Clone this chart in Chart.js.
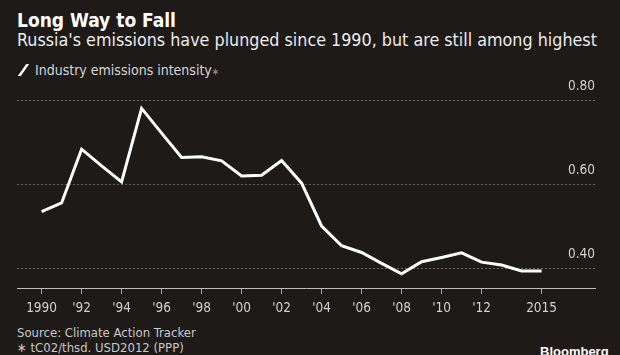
<!DOCTYPE html>
<html>
<head>
<meta charset="utf-8">
<script src="https://cdn.jsdelivr.net/npm/chart.js@4.4.1/dist/chart.umd.min.js"></script>
<style>
  html, body { margin: 0; padding: 0; }
  body { width: 620px; height: 355px; background: #1e1a18; position: relative; overflow: hidden;
         font-family: 'DejaVu Sans Condensed', 'DejaVu Sans', sans-serif; font-stretch: condensed; }
  .t { position: absolute; white-space: nowrap; line-height: 1; }
  #title { left: 17px; top: 11px; font-size: 19px; font-weight: bold; color: #ffffff; }
  #subtitle { left: 17px; top: 32px; font-size: 17.75px; color: #ececec; }
  #legend { left: 18px; top: 63px; font-size: 14px; color: #d6d6d6; }
  #legend .sw { display: inline-block; width: 3px; height: 12px; background: #fff; transform: skewX(-35deg) ; margin: 0 10px 0 4px; vertical-align: -1px; }
  #legend .ast { color: #9a9a9a; font-size: 10px; }
  #source { left: 17px; top: 326px; font-size: 13px; color: #c8c8c8; }
  #note { left: 17px; top: 341px; font-size: 13px; color: #c8c8c8; }
  #brand { left: 540px; top: 345px; font-size: 13px; font-weight: bold; color: #ffffff; font-family: 'Liberation Sans', sans-serif; font-stretch: normal; }
  canvas { position: absolute; left: 0; top: 0; }
</style>
</head>
<body>
<div class="t" id="title">Long Way to Fall</div>
<div class="t" id="subtitle">Russia's emissions have plunged since 1990, but are still among highest</div>
<div class="t" id="legend"><span class="sw"></span>Industry emissions intensity<span class="ast">∗</span></div>
<div class="t" id="source">Source: Climate Action Tracker</div>
<div class="t" id="note">∗ tC02/thsd. USD2012 (PPP)</div>
<div class="t" id="brand">Bloomberg</div>
<canvas id="c" width="620" height="355"></canvas>
<script>
const years = [1990,1991,1992,1993,1994,1995,1996,1997,1998,1999,2000,2001,2002,2003,2004,2005,2006,2007,2008,2009,2010,2011,2012,2013,2014,2015];
const intensity = [0.534,0.555,0.683,0.643,0.605,0.780,0.721,0.663,0.665,0.655,0.619,0.621,0.656,0.602,0.500,0.453,0.437,0.411,0.386,0.415,0.425,0.436,0.414,0.407,0.393,0.393];
const xTickValues = [1990,1992,1994,1996,1998,2000,2002,2004,2006,2008,2010,2012,2015];
const yTickValues = [0.40,0.60,0.80];

const FONT = "'DejaVu Sans Condensed', 'DejaVu Sans', sans-serif";

new Chart(document.getElementById('c'), {
  type: 'line',
  data: {
    datasets: [{
      label: 'Industry emissions intensity',
      data: years.map((y, i) => ({ x: y, y: intensity[i] })),
      borderColor: '#ffffff',
      borderWidth: 3,
      pointRadius: 0,
      tension: 0,
      fill: false
    }]
  },
  options: {
    responsive: false,
    animation: false,
    layout: { padding: { left: 17, right: 25, top: 91.6, bottom: 0 } },
    plugins: { legend: { display: false }, tooltip: { enabled: false } },
    scales: {
      x: {
        type: 'linear',
        min: 1988.77,
        max: 2017.67,
        afterBuildTicks: s => { s.ticks = xTickValues.map(v => ({ value: v })); },
        afterFit: s => { s.height = 67; },
        grid: { drawOnChartArea: false, drawTicks: true, tickLength: 6, color: '#a8a8a8', lineWidth: 1 },
        border: { display: true, color: '#bdbdbd', width: 1 },
        ticks: {
          color: '#d0d0d0',
          font: { family: FONT, size: 13.5 },
          padding: 6,
          maxRotation: 0,
          autoSkip: false,
          callback: v => (v === 1990 || v === 2015) ? String(v) : "'" + String(v).slice(2)
        }
      },
      y: {
        position: 'right',
        min: 0.3524,
        max: 0.82,
        afterBuildTicks: s => { s.ticks = yTickValues.map(v => ({ value: v })); },
        afterFit: s => { s.width = 0; },
        grid: { drawTicks: false, color: '#6e6a66', lineWidth: 1 },
        border: { display: false, dash: [2, 2] },
        ticks: {
          mirror: true,
          padding: 0,
          labelOffset: -14,
          color: '#d0d0d0',
          font: { family: FONT, size: 13.5 },
          callback: v => v.toFixed(2)
        }
      }
    }
  }
});
</script>
</body>
</html>
